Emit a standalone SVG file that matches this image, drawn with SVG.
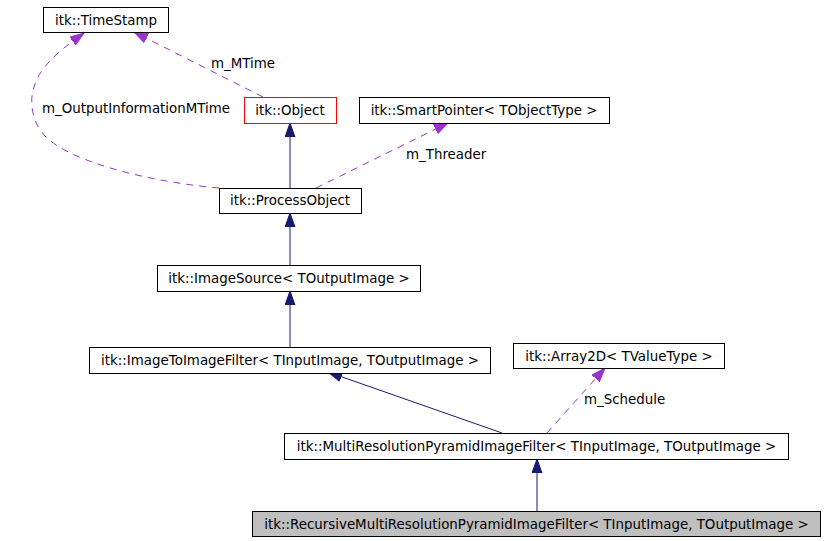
<svg xmlns="http://www.w3.org/2000/svg" width="825" height="541" viewBox="0 0 825 541">
<defs>
<style>
.box{fill:#ffffff;stroke:#000000;stroke-width:1}
.txt{font-family:"DejaVu Sans","Liberation Sans",sans-serif;font-size:13.4px;fill:#000000;text-anchor:middle}
.lbl{font-family:"DejaVu Sans","Liberation Sans",sans-serif;font-size:13.4px;fill:#000000}
.inh{fill:none;stroke:#191970;stroke-width:1;marker-end:url(#navy)}
.use{fill:none;stroke:#9a32cd;stroke-width:1;stroke-dasharray:7,6;marker-end:url(#purple)}
</style>
<marker id="navy" markerUnits="userSpaceOnUse" markerWidth="15" markerHeight="11" refX="14" refY="5.5" orient="auto" viewBox="0 0 15 11">
<path d="M0,0.5 L14,5.5 L0,10.5 z" fill="#191970" stroke="#191970"/>
</marker>
<marker id="purple" markerUnits="userSpaceOnUse" markerWidth="15" markerHeight="11" refX="14" refY="5.5" orient="auto" viewBox="0 0 15 11">
<path d="M0,0.5 L14,5.5 L0,10.5 z" fill="#9a32cd" stroke="#9a32cd"/>
</marker>
</defs>
<rect width="825" height="541" fill="#ffffff"/>
<g id="connectors">
<path class="inh" d="M290,188 L290,123"/>
<path class="inh" d="M290,265 L290,213"/>
<path class="inh" d="M290,347 L290,291"/>
<path class="inh" d="M502,433 L328,372"/>
<path class="inh" d="M537,511 L537,459"/>
<path class="use" d="M263,97 L134,32"/>
<path class="use" d="M219,188 C150,182 70,162 45,136 C30,120 30,98 34,87 C40,66 60,50 84,33"/>
<path class="use" d="M316,188 L448,123"/>
<path class="use" d="M547,433 L605,368"/>
<text class="lbl" x="211" y="68">m_MTime</text>
<text class="lbl" x="42" y="113">m_OutputInformationMTime</text>
<text class="lbl" x="406" y="159">m_Threader</text>
<text class="lbl" x="584" y="404">m_Schedule</text>
</g>
<g id="TimeStamp">
<rect class="box" x="43.5" y="7.5" width="125" height="25"/>
<text class="txt" x="106" y="25">itk::TimeStamp</text>
</g>
<g id="Object">
<rect class="box" x="244.5" y="97.5" width="92" height="26" style="stroke:#ff0000"/>
<text class="txt" x="290" y="115">itk::Object</text>
</g>
<g id="SmartPointer">
<rect class="box" x="359.5" y="97.5" width="250" height="26"/>
<text class="txt" x="484" y="115">itk::SmartPointer&lt; TObjectType &gt;</text>
</g>
<g id="ProcessObject">
<rect class="box" x="219.5" y="188.5" width="142" height="25"/>
<text class="txt" x="290" y="205">itk::ProcessObject</text>
</g>
<g id="ImageSource">
<rect class="box" x="157.5" y="265.5" width="263" height="26"/>
<text class="txt" x="289" y="283">itk::ImageSource&lt; TOutputImage &gt;</text>
</g>
<g id="ImageToImageFilter">
<rect class="box" x="89.5" y="347.5" width="401" height="26"/>
<text class="txt" x="290" y="365">itk::ImageToImageFilter&lt; TInputImage, TOutputImage &gt;</text>
</g>
<g id="Array2D">
<rect class="box" x="513.5" y="343.5" width="211" height="25"/>
<text class="txt" x="619" y="361">itk::Array2D&lt; TValueType &gt;</text>
</g>
<g id="MultiResolutionPyramidImageFilter">
<rect class="box" x="284.5" y="433.5" width="504" height="26"/>
<text class="txt" x="536.5" y="451">itk::MultiResolutionPyramidImageFilter&lt; TInputImage, TOutputImage &gt;</text>
</g>
<g id="RecursiveMultiResolutionPyramidImageFilter">
<rect class="box" x="252.5" y="511.5" width="568" height="25" style="fill:#bfbfbf"/>
<text class="txt" x="536.5" y="529">itk::RecursiveMultiResolutionPyramidImageFilter&lt; TInputImage, TOutputImage &gt;</text>
</g>
</svg>
